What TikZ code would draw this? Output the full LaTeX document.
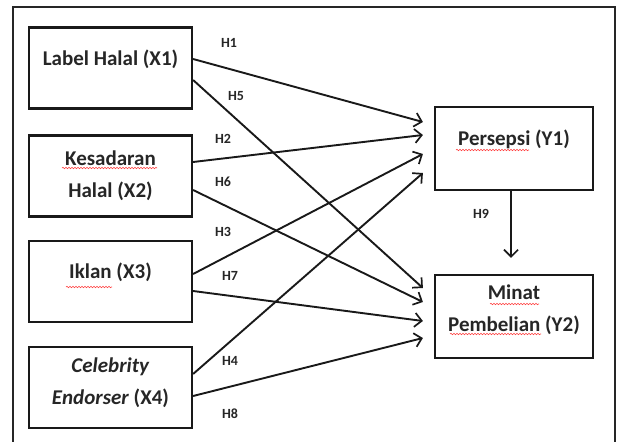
\documentclass[tikz,border=0pt]{standalone}
\usepackage{fontspec}
\setmainfont{Carlito}
\usetikzlibrary{arrows.meta, positioning, decorations.pathmorphing}

\begin{document}
\begin{tikzpicture}[
    x=1pt, y=-1pt,
    >={Straight Barb[length=7pt, width=14pt, line width=1.7pt]},
    varbox/.style={draw=black!90, line width=2.2pt, align=center, inner sep=0pt,
        font=\fontsize{21}{32}\selectfont\bfseries, text=black!85},
    leftbox/.style={varbox, minimum width=163pt, minimum height=81pt},
    rightbox/.style={varbox, minimum width=158pt, minimum height=83pt},
    uptext/.style={text depth=21pt},
    path/.style={->, line width=1.9pt, black!90},
    hyp/.style={font=\fontsize{14}{16}\selectfont\bfseries, text=black!85},
    typo/.style={draw=red!75, line width=0.6pt, decorate,
        decoration={snake, amplitude=0.7pt, segment length=3pt}}
]

\useasboundingbox (0,0) rectangle (622,442);

% ===== Frame =====
\draw[line width=2pt, black!85] (13,442) -- (13,7) -- (615,7) -- (615,442);

% ===== Independent variables =====
\node[leftbox, uptext] (x1) at (110.5,68) {Label Halal (X1)};
\node[leftbox] (x2) at (110.5,176) {Kesadaran\\Halal (X2)};
\node[leftbox, uptext] (x3) at (110.5,281.5) {Iklan (X3)};
\node[leftbox, text depth=12pt] (x4) at (110.5,387.5) {\textit{Celebrity}\\\textit{Endorser} (X4)};

% ===== Dependent variables =====
\node[rightbox, uptext] (y1) at (514,148.5) {Persepsi (Y1)};
\node[rightbox, text depth=16pt] (y2) at (514,316.5) {Minat\\Pembelian (Y2)};

% ===== Paths to Y1 =====
\draw[path] ([yshift=9pt]x1.east) -- ([xshift=-11pt, yshift=26.5pt]y1.west);
\draw[path] ([yshift=14pt]x2.east) -- ([xshift=-11pt, yshift=13.5pt]y1.west);
\draw[path] ([yshift=7.5pt]x3.east) -- ([xshift=-11pt, yshift=-5.5pt]y1.west);
\draw[path] ([yshift=13.5pt]x4.east) -- ([xshift=-11pt, yshift=-24.5pt]y1.west);

% ===== Paths to Y2 =====
\draw[path] ([yshift=-12pt]x1.east) -- ([xshift=-11pt, yshift=28.5pt]y2.west);
\draw[path] ([yshift=-14pt]x2.east) -- ([xshift=-11pt, yshift=14.5pt]y2.west);
\draw[path] ([yshift=-9.5pt]x3.east) -- ([xshift=-11pt, yshift=-4.5pt]y2.west);
\draw[path] ([yshift=-8.5pt]x4.east) -- ([xshift=-11pt, yshift=-21.5pt]y2.west);

% Y1 to Y2
\draw[path] ([xshift=-3pt]y1.south) -- ([xshift=-3pt, yshift=16pt]y2.north);

% ===== Hypothesis labels =====
\node[hyp] (h1) at (229,43) {H1};
\node[hyp] (h5) at (236,96) {H5};
\node[hyp] (h2) at (223,139) {H2};
\node[hyp] (h6) at (223,182) {H6};
\node[hyp] (h3) at (223,232) {H3};
\node[hyp] (h7) at (230,276) {H7};
\node[hyp] (h4) at (230,361) {H4};
\node[hyp] (h8) at (230,414) {H8};
\node[hyp] (h9) at (481,214) {H9};

% ===== Spell-check marks =====
\draw[typo] (62,168) -- (157,168);
\draw[typo] (66,287) -- (112,287);
\draw[typo] (456,150) -- (529,150);
\draw[typo] (490,304) -- (539,304);
\draw[typo] (450,334) -- (541,334);

\end{tikzpicture}
\end{document}
